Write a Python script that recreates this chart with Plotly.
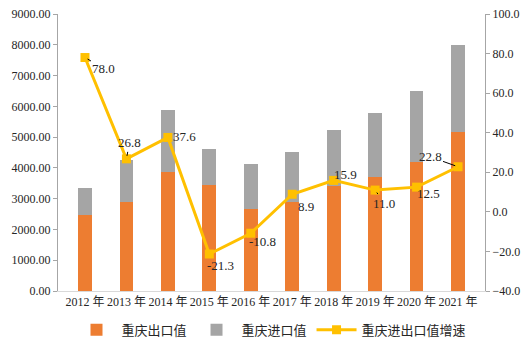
import plotly.graph_objects as go

# 重庆进出口数据（亿元）
years = ["2012 年", "2013 年", "2014 年", "2015 年", "2016 年",
         "2017 年", "2018 年", "2019 年", "2020 年", "2021 年"]
export_vals = [2460, 2900, 3880, 3430, 2660, 2890, 3400, 3700, 4190, 5170]
import_vals = [900, 1360, 1990, 1190, 1470, 1620, 1820, 2090, 2320, 2830]
growth = [78.0, 26.8, 37.6, -21.3, -10.8, 8.9, 15.9, 11.0, 12.5, 22.8]

# label offsets (px) relative to each point, and whether a leader line is drawn
label_dx = [19, 3, 17, 11, 12, 14, 12, 9, 12, -28]
label_dy = [11, -16, -1, 11, 8, 12, -6, 13, 6, -10]
leader = [True, True, False, False, False, False, False, True, False, True]

NUM_FONT = "Liberation Serif, Noto Sans CJK SC, serif"
AXIS_COLOR = "#A6A6A6"
TICK_FONT = dict(family=NUM_FONT, size=12, color="#262626")

fig = go.Figure()
fig.add_trace(go.Bar(x=years, y=export_vals, name="重庆出口值",
                     marker=dict(color="#ED7D31", line=dict(width=0))))
fig.add_trace(go.Bar(x=years, y=import_vals, name="重庆进口值",
                     marker=dict(color="#A5A5A5", line=dict(width=0))))
fig.add_trace(go.Scatter(x=years, y=growth, name="重庆进出口值增速", yaxis="y2",
                         mode="lines+markers",
                         line=dict(color="#FFC000", width=3),
                         marker=dict(symbol="square", size=9, color="#FFC000")))

annotations = []
for x, v, dx, dy, ld in zip(years, growth, label_dx, label_dy, leader):
    common = dict(x=x, y=v, xref="x", yref="y2", text=f"{v:.1f}",
                  font=dict(family=NUM_FONT, size=13, color="#262626"))
    if ld:
        annotations.append(dict(**common, showarrow=True, ax=dx, ay=dy,
                                arrowhead=0, arrowwidth=1, arrowcolor="#000000",
                                standoff=3))
    else:
        annotations.append(dict(**common, showarrow=False, xshift=dx, yshift=-dy))

fig.update_layout(
    width=530, height=344,
    margin=dict(l=58, r=45, t=14, b=53, autoexpand=False),
    paper_bgcolor="white", plot_bgcolor="white",
    barmode="stack", bargap=0.67,
    font=dict(family=NUM_FONT, size=12, color="#404040"),
    showlegend=True,
    legend=dict(orientation="h", x=0.5, xanchor="center", y=-0.14, yanchor="middle",
                font=dict(family="Noto Sans CJK SC, sans-serif", size=13, color="#262626"),
                itemwidth=40, traceorder="normal"),
    xaxis=dict(type="category", showline=True, linecolor="#D9D9D9", linewidth=1,
               ticks="", tickfont=TICK_FONT, showgrid=False, automargin=False),
    yaxis=dict(range=[0, 9000], dtick=1000, tickformat=".2f",
               showline=True, linecolor=AXIS_COLOR, linewidth=1,
               ticks="outside", ticklen=4, tickcolor=AXIS_COLOR,
               showgrid=False, zeroline=False, automargin=False, tickfont=TICK_FONT),
    yaxis2=dict(range=[-40, 100], dtick=20, tickformat=".1f", overlaying="y",
                side="right", showline=True, linecolor=AXIS_COLOR, linewidth=1,
                ticks="outside", ticklen=4, tickcolor=AXIS_COLOR,
                showgrid=False, zeroline=False, automargin=False, tickfont=TICK_FONT),
    annotations=annotations,
)

fig.write_html("out.html")
